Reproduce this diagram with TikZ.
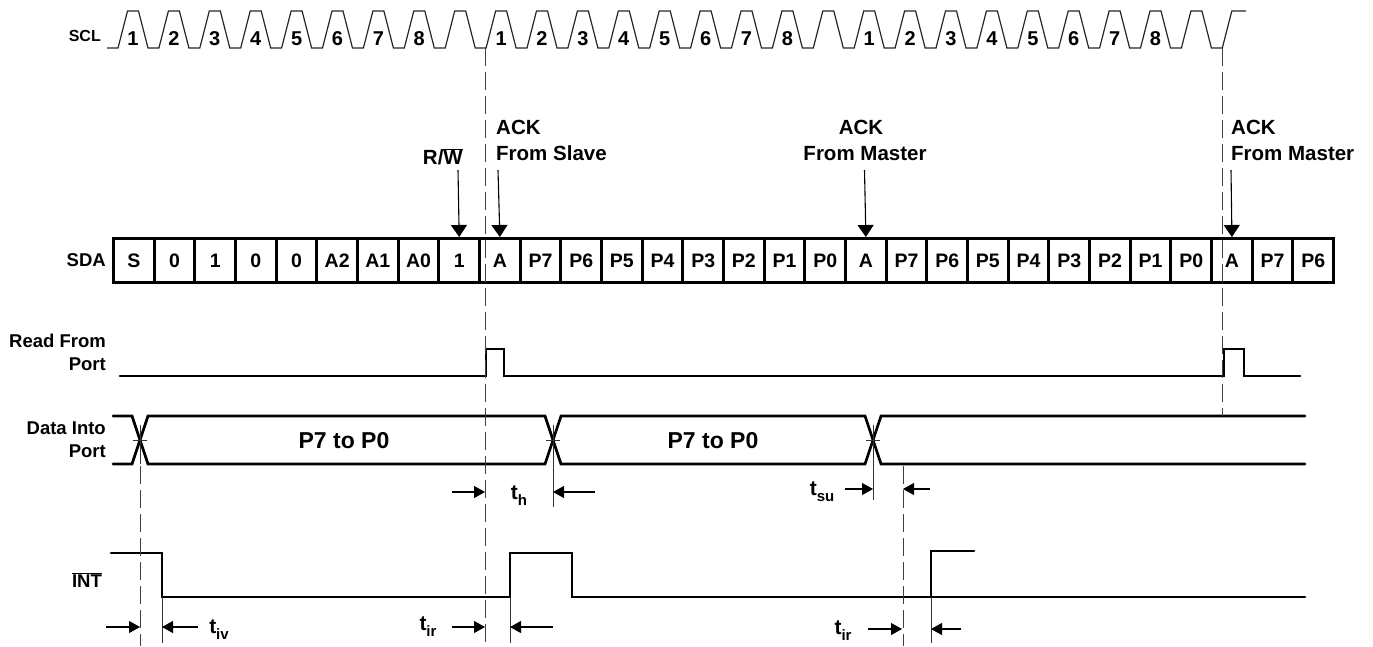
\documentclass[tikz,border=0pt]{standalone}
\usepackage{fontspec}
\setmainfont{Liberation Sans}
\usetikzlibrary{arrows.meta}
\newcommand{\ovl}[1]{\ensuremath{\overline{\mbox{#1}}}}
\newcommand{\tsb}[1]{t\raisebox{-0.32em}{\fontsize{15}{15}\selectfont #1}}
\begin{document}
\begin{tikzpicture}[x=1pt,y=-1pt,
  sig/.style={line width=2.7pt, line cap=round},
  clk/.style={line width=1.2pt, black!85},
  dsh/.style={line width=0.8pt, dash pattern=on 18pt off 6pt, black!75},
  tln/.style={line width=0.7pt, black!80},
  tarrow/.style={line width=1.1pt, -{Triangle[length=11pt,width=12pt]}},
  barrow/.style={line width=1.1pt, -{Triangle[length=12pt,width=16pt]}},
  lbl/.style={font=\fontsize{18.5}{23}\selectfont\bfseries, inner sep=0pt, text height=13.5pt, text depth=0pt},
  big/.style={font=\fontsize{20.5}{24}\selectfont\bfseries, inner sep=0pt, text height=14.7pt, text depth=0pt},
  num/.style={font=\fontsize{20}{22}\selectfont\bfseries, inner sep=0pt, text height=14.3pt, text depth=0pt},
  bx/.style={draw, line width=3pt, minimum width=40.67pt, minimum height=44pt, anchor=north west, inner sep=0pt,
    font=\fontsize{19.5}{21}\selectfont\bfseries, text height=14pt, text depth=0pt},
  tlab/.style={font=\fontsize{21}{24}\selectfont\bfseries, inner sep=0pt, text height=14pt, text depth=0pt}
]
\useasboundingbox (0,0) rectangle (1373,646);

% ---- SCL ----
\node[font=\fontsize{16}{18}\selectfont\bfseries, inner sep=0pt, anchor=east, text height=11.5pt, text depth=0pt] (scl) at (101,36) {SCL};
\draw[clk] (107,48) \foreach \k in {0,...,26}{
   -- ({118+\k*40.9},48) -- ({127.5+\k*40.9},11) -- ({138.5+\k*40.9},11) -- ({148+\k*40.9},48)}
   -- (1222.3,48) -- (1231.8,11) -- (1246,11);
\foreach \b in {0,1,2}{
  \foreach \n in {1,...,8}{
    \node[num] (c\b\n) at ({133+(9*\b+\n-1)*40.9},38.5) {\n};
  }
}

% ---- SDA ----
\node[lbl, anchor=east] (sda) at (106,260) {SDA};
\foreach \lab [count=\i from 0] in {S,0,1,0,0,A2,A1,A0,1,A,P7,P6,P5,P4,P3,P2,P1,P0,A,P7,P6,P5,P4,P3,P2,P1,P0,A,P7,P6}{
  \node[bx] (b\i) at ({112+\i*40.67},237) {\lab};
}

% ---- labels above SDA ----
\node[big, anchor=east] (rw) at (463,157) {R/\ovl{W}};
\coordinate (rwtop) at (458,170);
\draw[barrow] (rwtop) -- (b8.north);

\node[big, anchor=west] (ackS) at (496,127) {ACK};
\node[big, anchor=west] (fromS) at (496,153) {From Slave};
\coordinate (acksTop) at (498,170);
\draw[barrow] (acksTop) -- (b9.north);

\node[big] (ackM) at (861,127) {ACK};
\node[big] (fromM) at (865,153) {From Master};
\coordinate (ackmTop) at (864.5,170);
\draw[barrow] (ackmTop) -- (b18.north);

\node[big, anchor=west] (ackM2) at (1231,127) {ACK};
\node[big, anchor=west] (fromM2) at (1231,153) {From Master};
\coordinate (ackm2Top) at (1231,170);
\draw[barrow] (ackm2Top) -- (b27.north);

% ---- Read From Port ----
\node[lbl, anchor=east] (rfp1) at (106,341) {Read From};
\node[lbl, anchor=east] (rfp2) at (106,364) {Port};
\draw[sig] (120,376) -- (486,376) -- (486,349) -- (504,349) -- (504,376) -- (1224,376) -- (1224,349) -- (1244,349) -- (1244,376) -- (1300,376);

% ---- Data Into Port ----
\node[lbl, anchor=east] (dip1) at (106,428) {Data Into};
\node[lbl, anchor=east] (dip2) at (106,451) {Port};
\draw[sig] (113,416) -- (132,416) -- (148,464) -- (545,464) -- (561,416) -- (865,416) -- (881,464) -- (1305,464);
\draw[sig] (113,464) -- (132,464) -- (148,416) -- (545,416) -- (561,464) -- (865,464) -- (881,416) -- (1305,416);
\node[big, font=\fontsize{23}{25}\selectfont\bfseries, text height=16.5pt] (d1) at (344,440) {P7 to P0};
\node[big, font=\fontsize{23}{25}\selectfont\bfseries, text height=16.5pt] (d2) at (713,440) {P7 to P0};
\foreach \cx in {140,553,873}{
  \draw[tln] (\cx-7,440) -- (\cx+7,440);
  \draw[tln] (\cx,425) -- (\cx,464);
}
\draw[tln] (553,464) -- (553,507);
\draw[tln] (873,464) -- (873,500);

% ---- INT ----
\node[lbl, anchor=east] (int) at (102,581) {\ovl{INT}};
\draw[sig] (111,553) -- (162,553) -- (162,597) -- (510,597) -- (510,553) -- (572,553) -- (572,597) -- (1305,597);
\draw[sig] (931,597) -- (931,551) -- (974,551);
\draw[tln] (162,597) -- (162,643);
\draw[tln] (510,597) -- (510,643);
\draw[tln] (931,597) -- (931,643);

% ---- dashed reference lines ----
\draw[dsh] (485,48) -- (485,646);
\draw[dsh] (1222.3,48) -- (1222.3,416);
\draw[dsh] (140,466) -- (140,646);
\draw[dsh] (903,466) -- (903,646);

% ---- timing arrows ----
\coordinate (thL) at (452,492); \coordinate (thLe) at (485,492);
\coordinate (thR) at (595,492); \coordinate (thRe) at (553,492);
\draw[tarrow] (thL) -- (thLe);
\draw[tarrow] (thR) -- (thRe);
\node[tlab] (th) at (519,492) {\tsb{h}};

\coordinate (tsuL) at (845,489); \coordinate (tsuLe) at (873,489);
\coordinate (tsuR) at (930,489); \coordinate (tsuRe) at (903,489);
\draw[tarrow] (tsuL) -- (tsuLe);
\draw[tarrow] (tsuR) -- (tsuRe);
\node[tlab] (tsu) at (822,488) {\tsb{su}};

\coordinate (tivL) at (106,627); \coordinate (tivLe) at (140,627);
\coordinate (tivR) at (198,627); \coordinate (tivRe) at (162,627);
\draw[tarrow] (tivL) -- (tivLe);
\draw[tarrow] (tivR) -- (tivRe);
\node[tlab] (tiv) at (219,626) {\tsb{iv}};

\coordinate (tir1L) at (452,627); \coordinate (tir1Le) at (485,627);
\coordinate (tir1R) at (553,627); \coordinate (tir1Re) at (510,627);
\draw[tarrow] (tir1L) -- (tir1Le);
\draw[tarrow] (tir1R) -- (tir1Re);
\node[tlab] (tir1) at (428,623) {\tsb{ir}};

\coordinate (tir2L) at (868,629); \coordinate (tir2Le) at (902,629);
\coordinate (tir2R) at (961,629); \coordinate (tir2Re) at (931,629);
\draw[tarrow] (tir2L) -- (tir2Le);
\draw[tarrow] (tir2R) -- (tir2Re);
\node[tlab] (tir2) at (843,627) {\tsb{ir}};
\end{tikzpicture}
\end{document}
